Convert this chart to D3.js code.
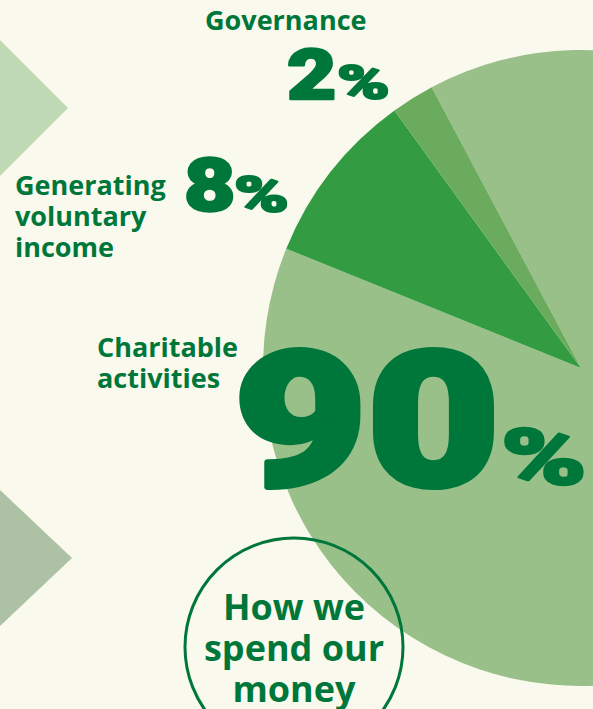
<!DOCTYPE html>
<html><head><meta charset="utf-8">
<script src="https://cdn.jsdelivr.net/npm/d3@7"></script>
<style>
html,body{margin:0;padding:0;background:#f9f9ed;}
svg{display:block;}
</style></head>
<body>
<svg id="chart" width="593" height="709"></svg>
<script>
// ---- data ----
const categories = ["Charitable activities", "Generating voluntary income", "Governance"];
const shares = [88.9, 8.9, 2.2];            // slice sizes
const shareLabels = ["90", "8", "2"];       // printed percentages
const labelLines = [["Charitable", "activities"], ["Generating", "voluntary", "income"], ["Governance"]];
const title = ["How we", "spend our", "money"];

// ---- styles ----
const colors = ["#99c089", "#339b42", "#6aab5e"];
const dark = "#00773a";
const bg = "#f9f9ed";

const svg = d3.select("#chart");
svg.append("rect").attr("width", 593).attr("height", 709).attr("fill", bg);

// decorative chevrons
svg.append("path").attr("d", "M0,40 L68,108 L0,176 Z").attr("fill", "#c0d9b5");
svg.append("path").attr("d", "M0,490 L72,558 L0,626 Z").attr("fill", "#adc2a5");

// pie
const cx = 581, cy = 368, R = 318;
const start = -28 * Math.PI / 180;
const pie = d3.pie().sort(null).value(d => d).startAngle(start).endAngle(start + 2 * Math.PI);
const arc = d3.arc().innerRadius(0).outerRadius(R);
svg.append("g").attr("transform", `translate(${cx},${cy})`)
  .selectAll("path").data(pie(shares)).join("path")
  .attr("d", arc).attr("fill", (d, i) => colors[i]);

// title circle
svg.append("circle").attr("cx", 294).attr("cy", 647).attr("r", 109)
  .attr("fill", "none").attr("stroke", dark).attr("stroke-width", 3);
const tt = svg.append("text").attr("text-anchor", "middle").attr("fill", dark)
  .style("font-family", "'Open Sans', sans-serif").style("font-weight", 700).style("font-size", "36px");
title.forEach((t, i) => tt.append("tspan").attr("x", 294).attr("y", 620 + i * 41).text(t));

// category labels
const labelFont = "'Open Sans', sans-serif";
const catPos = [{x: 97, y: 357}, {x: 15, y: 195}, {x: 205, y: 30}];
labelLines.forEach((lines, k) => {
  const t = svg.append("text").attr("fill", dark)
    .style("font-family", labelFont).style("font-weight", 700).style("font-size", "27px");
  lines.forEach((l, i) => t.append("tspan").attr("x", catPos[k].x).attr("y", catPos[k].y + i * 31).text(l));
});

// big percentages
const bigPos = [
  {x: 234, y: 485, fs: 188, sx: 1.22, sw: 6, px: 501, py: 484, ps: 78, psx: 1.48, psw: 2.5},
  {x: 184, y: 211, fs: 74, sx: 1.2, sw: 2.5, px: 234, py: 212, ps: 50, psx: 1.48, psw: 2},
  {x: 287, y: 99, fs: 71, sx: 1.2, sw: 2.5, px: 337, py: 99, ps: 48, psx: 1.48, psw: 2}
];
const bigFont = "Roboto, 'Open Sans', sans-serif";
shareLabels.forEach((v, k) => {
  const p = bigPos[k];
  svg.append("text").attr("transform", `translate(${p.x},${p.y}) scale(${p.sx},1)`)
    .attr("fill", dark).attr("stroke", dark).attr("stroke-width", p.sw).attr("stroke-linejoin", "round")
    .style("font-family", bigFont).style("font-weight", 900)
    .style("font-size", p.fs + "px").style("letter-spacing", "0px").text(v);
  svg.append("text").attr("transform", `translate(${p.px},${p.py}) scale(${p.psx},1)`)
    .attr("fill", dark).attr("stroke", dark).attr("stroke-width", p.psw).attr("stroke-linejoin", "round")
    .style("font-family", bigFont).style("font-weight", 900)
    .style("font-size", p.ps + "px").text("%");
});
</script>
</body></html>
